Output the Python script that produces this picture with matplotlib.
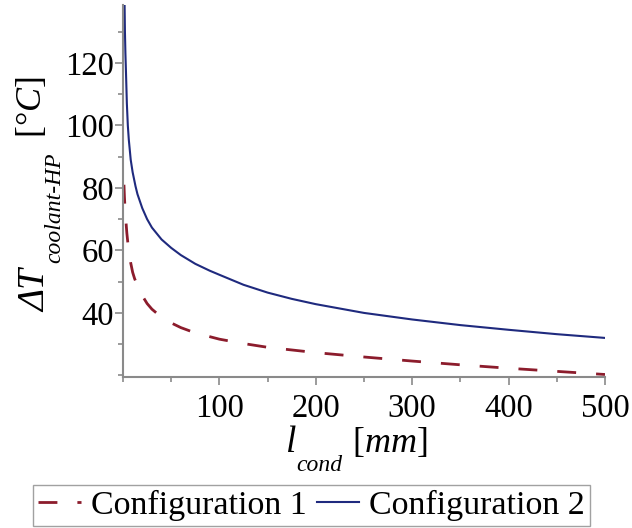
import matplotlib
matplotlib.use('Agg')
import matplotlib.pyplot as plt
from matplotlib.ticker import MultipleLocator

# condenser length [mm] and coolant-to-heat-pipe temperature difference [degC]
l_cond_1 = [1, 1.5, 2, 3, 4, 5, 6, 8, 10, 12, 15, 20, 25, 30, 40, 50, 60, 75,
            100, 125, 150, 200, 250, 300, 350, 400, 450, 500]
dT_conf_1 = [81, 77, 74, 69.5, 65.5, 62.5, 60, 56, 53, 51, 48.7, 45.5, 43, 41.2, 38.6, 36.8, 35.3, 33.6,
             31.6, 30.2, 29, 27.3, 25.9, 24.6, 23.4, 22.3, 21.3, 20.3]

l_cond_2 = [1, 1.5, 2, 2.5, 3, 4, 5, 6, 8, 10, 13, 15, 20, 25, 30, 40, 50, 60, 75, 90,
            100, 125, 150, 175, 200, 250, 300, 350, 400, 450, 500]
dT_conf_2 = [165, 142, 130, 123, 118, 107, 100, 95.5, 89, 85, 80.5, 78, 73.5, 70, 67.3, 63.5, 60.8, 58.5, 55.7, 53.5,
             52.2, 49, 46.5, 44.5, 42.8, 40, 37.9, 36.1, 34.6, 33.2, 32]

series_labels = ['Configuration 1', 'Configuration 2']

plt.rcParams['font.family'] = 'Liberation Serif'
plt.rcParams['mathtext.fontset'] = 'custom'
plt.rcParams['mathtext.rm'] = 'Liberation Serif'
plt.rcParams['mathtext.it'] = 'Liberation Serif:italic'
plt.rcParams['mathtext.bf'] = 'Liberation Serif:bold'

W, H = 632, 528
axis_grey = '#8a8a8a'

fig = plt.figure(figsize=(W / 100, H / 100), dpi=100)
ax = fig.add_axes([123 / W, 1 - 377 / H, 482 / W, 372 / H])


def put(px, py, s, size, rot=0, **kw):
    # place a text piece by its baseline start, given in pixels from the top left
    return fig.text(px / W, 1 - py / H, s, fontsize=size, rotation=rot,
                    rotation_mode='anchor', ha='left', va='baseline', **kw)


ax.plot(l_cond_1, dT_conf_1, color='#8c1c2c', lw=2.0, dashes=(6.8, 7.2), label=series_labels[0])
ax.plot(l_cond_2, dT_conf_2, color='#1f2a7e', lw=1.5, label=series_labels[1])

ax.set_xlim(0, 500)
ax.set_ylim(19.5, 138.5)

ax.xaxis.set_major_locator(MultipleLocator(100))
ax.xaxis.set_minor_locator(MultipleLocator(50))
ax.yaxis.set_major_locator(MultipleLocator(20))
ax.yaxis.set_minor_locator(MultipleLocator(10))
ax.set_xticks([100, 200, 300, 400, 500])
ax.set_yticks([40, 60, 80, 100, 120])

for side in ['top', 'right']:
    ax.spines[side].set_visible(False)
for side in ['left', 'bottom']:
    ax.spines[side].set_color(axis_grey)
    ax.spines[side].set_linewidth(1.5)

ax.tick_params(which='major', length=6, width=1.2, color=axis_grey, labelsize=23.5, pad=0.5)
ax.tick_params(which='minor', length=3.5, width=1.2, color=axis_grey)
ax.tick_params(axis='x', which='major', pad=6)

# y label: Delta T with a lowered subscript, then the unit
put(45, 312, 'ΔT', 27, rot=90, style='italic')
put(60, 263, 'coolant-HP', 17, rot=90, style='italic')
put(41, 138, r'$[\mathrm{°}C]$', 26, rot=90)

# x label
put(286, 452, 'l', 27, style='italic')
put(296, 471, 'cond', 17, style='italic')
put(352, 452, r'$[mm]$', 26)

leg = fig.legend(loc='lower center', bbox_to_anchor=(0.493, 0.0), ncol=2, fontsize=24.5,
                 frameon=True, fancybox=False, edgecolor=axis_grey, handlelength=1.25,
                 handletextpad=0.3, columnspacing=0.3, borderpad=0.15, borderaxespad=0.05)
leg.get_frame().set_linewidth(1.0)

fig.savefig('out.png', dpi=100)
